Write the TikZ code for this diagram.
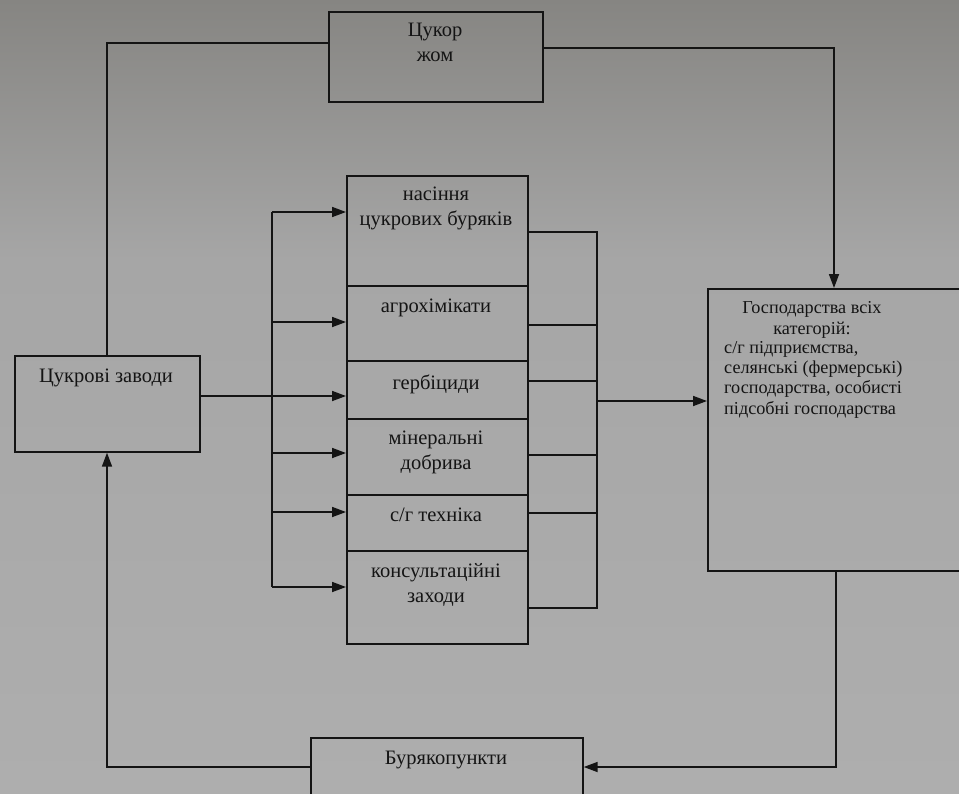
\documentclass[tikz,border=0pt]{standalone}
\usepackage{fontspec}
\setmainfont{Liberation Serif}
\usetikzlibrary{arrows.meta}
\definecolor{ink}{RGB}{20,20,20}
\definecolor{bgtop}{RGB}{134,133,130}
\definecolor{bgmid}{RGB}{166,166,166}
\definecolor{bgbot}{RGB}{174,174,174}
\begin{document}
\begin{tikzpicture}[x=1pt,y=-1pt,
  box/.style={draw=ink, line width=1.7pt, anchor=north west, inner sep=0pt},
  lbl/.style={text=ink, font=\fontsize{20.5}{25}\selectfont, align=center, inner sep=0pt},
  lbll/.style={text=ink, font=\fontsize{18.2}{20.3}\selectfont, align=left, inner sep=0pt, anchor=north west},
  conn/.style={draw=ink, line width=1.7pt},
  arr/.style={conn, -{Triangle[length=14pt,width=10pt]}}]
\useasboundingbox (0,0) rectangle (959,793);
\clip (0,0) rectangle (959,793);
\shade[top color=bgtop, bottom color=bgmid] (0,0) rectangle (959,260);
\shade[top color=bgmid, bottom color=bgbot] (0,260) rectangle (959,793);

% boxes
\node[box, minimum width=214pt, minimum height=90pt] (sugar) at (328,11) {};
\node[box, minimum width=185pt, minimum height=96pt] (zav) at (14,355) {};
\node[box, minimum width=181pt, minimum height=110pt] (r1) at (346,175) {};
\node[box, minimum width=181pt, minimum height=75pt] (r2) at (346,285) {};
\node[box, minimum width=181pt, minimum height=58pt] (r3) at (346,360) {};
\node[box, minimum width=181pt, minimum height=76pt] (r4) at (346,418) {};
\node[box, minimum width=181pt, minimum height=56pt] (r5) at (346,494) {};
\node[box, minimum width=181pt, minimum height=93pt] (r6) at (346,550) {};
\node[box, minimum width=270pt, minimum height=282pt] (gosp) at (707,288) {};
\node[box, minimum width=272pt, minimum height=80pt] (bur) at (310,737) {};

% texts
\node[lbl] (tsugar) at (435,42) {Цукор\\жом};
\node[lbl] (tzav) at (106,378) {Цукрові заводи};
\node[lbl] (t1) at (436,208) {насіння\\цукрових буряків};
\node[lbl] (t2) at (436,308) {агрохімікати};
\node[lbl] (t3) at (436,384) {гербіциди};
\node[lbl] (t4) at (436,452) {мінеральні\\добрива};
\node[lbl] (t5) at (436,515) {с/г техніка};
\node[lbl] (t6) at (436,585) {консультаційні\\заходи};
\node[lbl, font=\fontsize{18.2}{20.3}\selectfont] (tgA) at (812,320) {Господарства всіх\\категорій:};
\node[lbll] (tgB) at (724,341) {с/г підприємства,\\селянські (фермерські)\\господарства, особисті\\підсобні господарства};
\node[lbl] (tbur) at (446,760) {Бурякопункти};

% top loop
\draw[conn] (sugar.west |- 0,43) -- (107,43) -- (zav.north -| 107,0);
\draw[arr] (sugar.east |- 0,48) -- (834,48) -- (gosp.north -| 834,0);

% from sugar factories into the stack
\draw[arr] (zav.east |- 0,396) -- (r3.west |- 0,396);
\coordinate (busL1) at (272,212);
\coordinate (busL2) at (272,587);
\draw[conn] (busL1) -- (busL2);
\draw[arr] (busL1) -- (r1.west |- busL1);
\draw[arr] (272,322) -- (r2.west |- 0,322);
\draw[arr] (272,453) -- (r4.west |- 0,453);
\draw[arr] (272,512) -- (r5.west |- 0,512);
\draw[arr] (busL2) -- (r6.west |- busL2);

% from the stack to the farms
\coordinate (busR1) at (597,232);
\coordinate (busR2) at (597,608);
\draw[conn] (r1.east |- busR1) -- (busR1) -- (busR2) -- (r6.east |- busR2);
\draw[conn] (r2.east |- 0,325) -- (597,325);
\draw[conn] (r3.east |- 0,381) -- (597,381);
\draw[conn] (r4.east |- 0,455) -- (597,455);
\draw[conn] (r5.east |- 0,513) -- (597,513);
\draw[arr] (597,401) -- (gosp.west |- 0,401);

% bottom loop
\draw[arr] (gosp.south -| 836,0) -- (836,767) -- (bur.east |- 0,767);
\draw[arr] (bur.west |- 0,767) -- (107,767) -- (zav.south -| 107,0);
\end{tikzpicture}
\end{document}
